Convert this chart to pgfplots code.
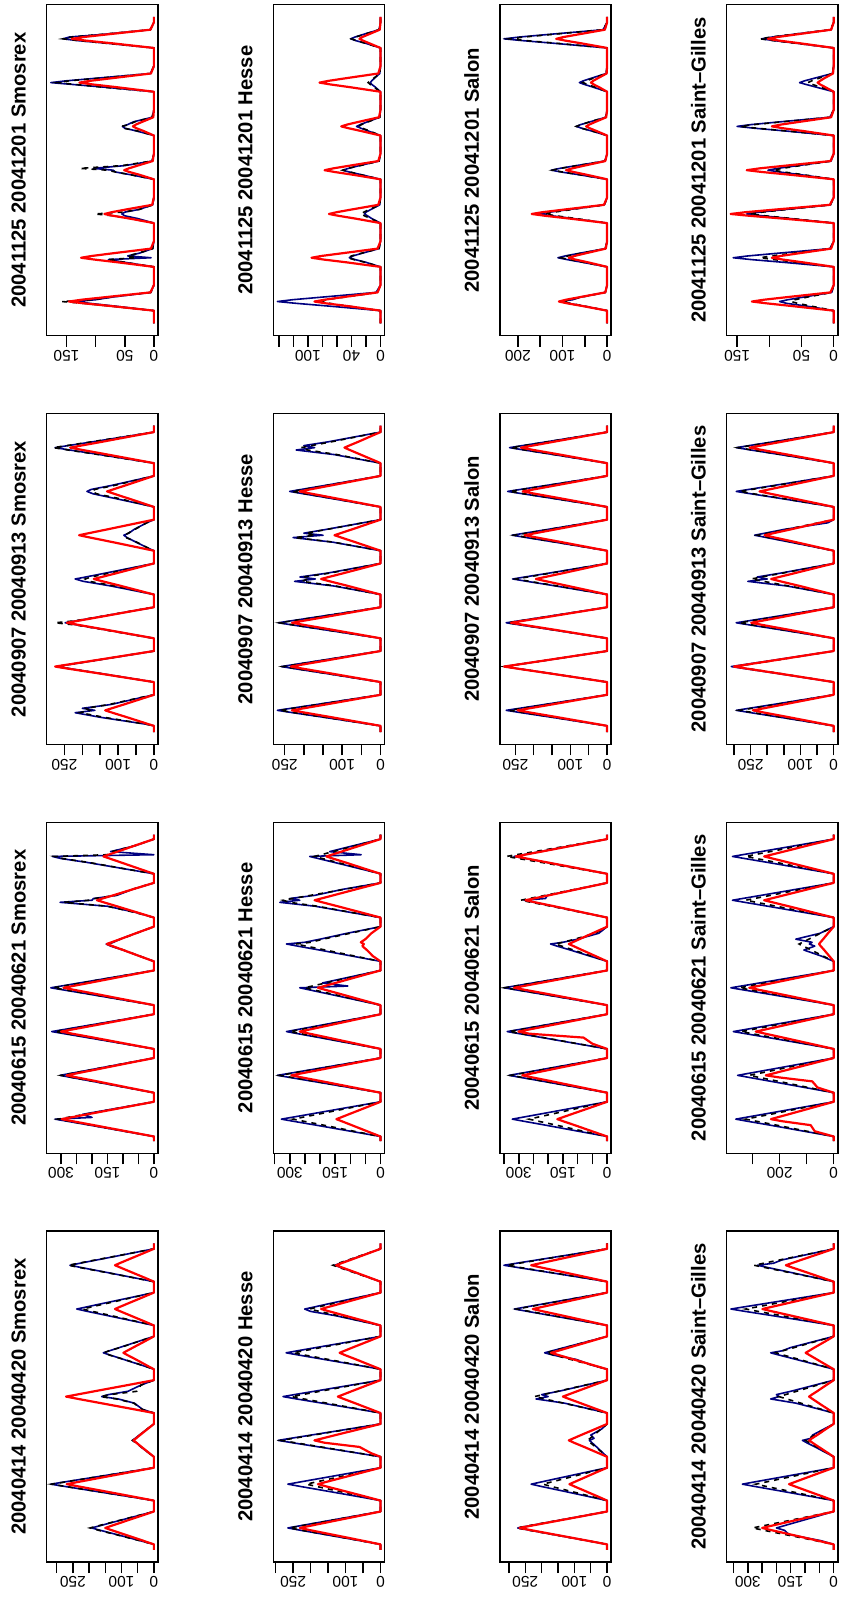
\documentclass[border=0pt]{standalone}
\usepackage{fontspec}
\setmainfont{Liberation Sans}
\usepackage{pgfplots}
\usepackage{pgfplotstable}
\pgfplotsset{compat=1.18}
\definecolor{navyR}{RGB}{0,0,128}

\pgfplotstableread{
t n b r
0 0 0 0
3 0 0 0
7 0 0 0
9.5 67 75 73
11 110 120 120
12 134 158 146
13 100 105 124
14.5 70 72 80
17 5 5 6
21 0 0 0
27 0 0 0
31 0 0 0
33.5 50 50 62
35 78 80 102
36 5 30 125
37 45 45 106
38.5 25 27 69
41 2 2 5
45 0 0 0
51 0 0 0
55 0 0 0
57.5 28 40 42
59 50 70 70
60 55 101 85
61 50 55 72
62.5 25 25 47
65 2 2 3
69 0 0 0
75 0 0 0
79 0 0 0
81.5 40 40 25
83 66 66 42
84 70 80 51
85 104 127 43
86.5 50 55 28
89 3 3 2
93 0 0 0
99 0 0 0
103 0 0 0
105.5 30 28 18
107 50 52 30
108 54 56 36
109 45 42 31
110.5 35 33 20
113 3 3 1
117 0 0 0
123 0 0 0
127 0 0 0
129.5 85 88 64
131 140 135 105
132 177 165 128
133 150 145 109
134.5 95 92 70
137 6 6 5
141 0 0 0
147 0 0 0
151 0 0 0
153.5 78 80 70
155 130 128 116
156 156 156 141
157 145 140 120
158.5 85 88 78
161 6 6 6
165 0 0 0
168 0 0 0
}\tSmoNov

\pgfplotstableread{
t n b r
0 0 0 0
3.5 0 0 0
4.35 20 20 14
8.2 150 140 75
10.7 220 206 116
12 165 180 136
13.1 200 190 118
15.2 120 125 84
18.8 40 42 27
20.5 0 0 0
27.5 0 0 0
28.35 27 27 28
32.2 149 150 152
34.7 230 232 235
36 271 273 276
37.1 236 238 240
39.2 168 170 171
42.8 54 55 55
44.5 0 0 0
51.5 0 0 0
52.35 25 28 24
56.2 136 140 134
58.7 211 215 207
60 248 276 243
61.1 216 220 211
63.2 154 156 151
66.8 50 52 49
68.5 0 0 0
75.5 0 0 0
76.35 22 20 17
80.2 121 110 92
82.7 197 180 143
84 220 192 168
85.1 190 175 146
87.2 136 125 104
90.8 44 40 34
92.5 0 0 0
99.5 0 0 0
100.35 10 10 21
104.2 50 48 115
106.7 75 78 178
108 84 82 209
109.1 70 72 182
111.2 55 53 130
114.8 20 20 42
116.5 0 0 0
123.5 0 0 0
124.35 19 18 13
128.2 110 100 72
130.7 170 160 111
132 187 173 131
133.1 175 165 114
135.2 120 112 81
138.8 38 36 26
140.5 0 0 0
147.5 0 0 0
148.35 28 28 23
152.2 152 155 129
154.7 235 240 199
156 276 281 234
157.1 240 244 204
159.2 171 174 145
162.8 55 56 47
164.5 0 0 0
168 0 0 0
}\tSmoSep

\pgfplotstableread{
t n b r
0 0 0 0
2.5 0 0 0
5.35 96 93 89
8.7 207 202 194
10.85 280 273 262
12 319 310 298
12.95 200 279 268
14.65 230 223 215
17.9 121 118 113
21.5 0 0 0
26.5 0 0 0
29.35 91 90 85
32.7 197 195 183
34.85 267 264 248
36 303 300 282
36.95 273 270 254
38.65 218 216 203
41.9 115 114 107
45.5 0 0 0
50.5 0 0 0
53.35 99 96 90
56.7 215 208 195
58.85 290 282 264
60 330 320 300
60.95 297 288 270
62.65 238 230 216
65.9 125 122 114
69.5 0 0 0
74.5 0 0 0
77.35 100 98 88
80.7 216 211 190
82.85 293 286 257
84 333 325 292
84.95 300 293 263
86.65 240 234 210
89.9 127 124 111
93.5 0 0 0
98.5 0 0 0
101.35 46 45 46
104.7 100 98 99
106.85 140 135 134
108 154 150 152
108.95 130 132 137
110.65 110 108 109
113.9 58 57 58
117.5 0 0 0
122.5 0 0 0
125.35 60 62 55
128.7 150 150 120
130.85 303 290 162
132 200 210 184
132.95 195 190 166
134.65 120 125 132
137.9 70 72 70
141.5 0 0 0
146.5 0 0 0
149.35 100 98 49
152.7 215 210 106
154.85 300 295 143
156 328 320 163
156.95 0 150 147
158.65 140 135 117
161.9 60 62 62
165.5 0 0 0
168 0 0 0
}\tSmoJun

\pgfplotstableread{
t n b r
0 0 0 0
3 0 0 0
5 42 43 33
8.4 115 118 90
10.7 165 170 129
12 192 197 150
13.1 169 173 132
14.9 131 134 102
18.3 58 59 45
21 0 0 0
27 0 0 0
29 70 69 59
32.4 191 189 161
34.7 273 271 231
36 318 315 269
37.1 280 277 237
38.9 216 214 183
42.3 95 95 81
45 0 0 0
51 0 0 0
53 15 15 14
56.4 40 39 38
58.7 53 57 54
60 66 66 63
61.1 58 56 55
62.9 45 44 43
66.3 20 20 19
69 0 0 0
75 0 0 0
77 35 36 60
80.4 60 62 163
82.7 110 115 233
84 161 165 271
85.1 140 135 238
86.9 80 53 184
90.3 40 40 81
93 0 0 0
99 0 0 0
101 34 33 21
104.4 94 92 56
106.7 134 136 81
108 156 154 94
109.1 137 139 83
110.9 106 104 64
114.3 47 46 28
117 0 0 0
123 0 0 0
125 52 48 26
128.4 143 132 72
130.7 205 189 103
132 238 220 120
133.1 209 194 106
134.9 162 150 82
138.3 71 66 36
141 0 0 0
147 0 0 0
149 57 58 26
152.4 155 158 72
154.7 223 227 103
156 259 264 120
157.1 228 232 106
158.9 176 180 82
162.3 78 79 36
165 0 0 0
168 0 0 0
}\tSmoApr

\pgfplotstableread{
t n b r
0 0 0 0
3 0 0 0
7 0 0 0
9.5 71 45 45
11 116 70 75
12 142 80 91
13 121 75 77
14.5 78 48 50
17 6 4 4
21 0 0 0
27 0 0 0
31 0 0 0
33.5 20 21 47
35 35 37 78
36 43 45 95
37 38 40 81
38.5 25 26 52
41 2 2 4
45 0 0 0
51 0 0 0
55 0 0 0
57.5 12 14 35
59 18 22 58
60 22 27 71
61 20 23 60
62.5 13 15 39
65 1 1 3
69 0 0 0
75 0 0 0
79 0 0 0
81.5 26 27 38
83 43 42 63
84 52 52 77
85 44 45 65
86.5 29 28 42
89 2 2 3
93 0 0 0
99 0 0 0
103 0 0 0
105.5 17 15 27
107 27 25 44
108 33 30 54
109 28 26 46
110.5 18 17 30
113 1 1 2
117 0 0 0
123 0 0 0
127 0 0 0
129.5 7 9 42
131 12 14 69
132 14 17 84
133 12 14 71
134.5 8 9 46
137 1 1 3
141 0 0 0
147 0 0 0
151 0 0 0
153.5 20 20 15
155 34 33 24
156 41 40 29
157 35 34 25
158.5 23 22 16
161 2 2 1
165 0 0 0
168 0 0 0
}\tHesNov

\pgfplotstableread{
t n b r
0 0 0 0
3.5 0 0 0
4.35 27 26 23
8.2 148 145 127
10.7 229 224 196
12 269 263 231
13.1 234 229 201
15.2 167 163 143
18.8 54 53 46
20.5 0 0 0
27.5 0 0 0
28.35 26 25 23
32.2 142 140 129
34.7 220 216 199
36 259 254 234
37.1 225 221 204
39.2 161 157 145
42.8 52 51 47
44.5 0 0 0
51.5 0 0 0
52.35 27 26 23
56.2 147 145 127
58.7 227 224 196
60 267 263 231
61.1 232 229 201
63.2 166 163 143
66.8 53 53 46
68.5 0 0 0
75.5 0 0 0
76.35 22 22 16
80.2 123 118 85
82.7 224 205 132
84 170 190 155
85.1 210 200 135
87.2 139 133 96
90.8 45 43 31
92.5 0 0 0
99.5 0 0 0
100.35 23 22 12
104.2 125 123 66
106.7 228 224 102
108 150 170 120
109.1 200 195 104
111.2 141 139 74
114.8 46 45 24
116.5 0 0 0
123.5 0 0 0
124.35 24 23 21
128.2 130 127 116
130.7 201 196 179
132 237 231 211
133.1 206 201 184
135.2 147 143 131
138.8 47 46 42
140.5 0 0 0
147.5 0 0 0
148.35 22 21 9
152.2 121 114 52
154.7 220 190 80
156 172 207 94
157.1 200 180 82
159.2 136 128 58
162.8 44 41 19
164.5 0 0 0
168 0 0 0
}\tHesSep

\pgfplotstableread{
t n b r
0 0 0 0
2.5 0 0 0
5.35 98 87 44
8.7 213 188 95
10.85 289 254 128
12 328 289 146
12.95 295 260 131
14.65 236 208 105
17.9 125 110 55
21.5 0 0 0
26.5 0 0 0
29.35 102 100 89
32.7 222 216 192
34.85 300 293 260
36 341 333 295
36.95 307 300 266
38.65 246 240 212
41.9 130 127 112
45.5 0 0 0
50.5 0 0 0
53.35 93 90 80
56.7 202 195 174
58.85 274 264 235
60 311 300 267
60.95 280 270 240
62.65 224 216 192
65.9 118 114 101
69.5 0 0 0
74.5 0 0 0
77.35 80 75 62
80.7 174 163 135
82.85 235 221 182
84 267 251 207
84.95 108 226 186
86.65 192 181 149
89.9 101 95 79
93.5 0 0 0
98.5 0 0 0
101.35 93 84 25
104.7 202 182 45
106.85 274 246 60
108 311 280 55
108.95 250 230 65
110.65 200 190 50
113.9 110 100 30
117.5 0 0 0
122.5 0 0 0
125.35 100 97 65
128.7 216 209 142
130.85 333 300 192
132 267 322 218
132.95 300 290 196
134.65 218 232 157
137.9 127 122 83
141.5 0 0 0
146.5 0 0 0
149.35 70 65 54
152.7 152 142 116
154.85 206 192 158
156 234 218 179
156.95 64 196 161
158.65 168 157 129
161.9 89 83 68
165.5 0 0 0
168 0 0 0
}\tHesJun

\pgfplotstableread{
t n b r
0 0 0 0
3 0 0 0
5 58 57 51
8.4 159 156 139
10.7 228 224 199
12 265 260 231
13.1 233 229 203
14.9 180 177 157
18.3 80 78 69
21 0 0 0
27 0 0 0
29 58 47 39
32.4 159 127 107
34.7 228 182 154
36 265 212 179
37.1 233 187 158
38.9 180 144 122
42.3 80 64 54
45 0 0 0
51 0 0 0
53 64 62 27
56.4 176 170 60
58.7 252 244 160
60 293 284 189
61.1 258 250 166
62.9 199 193 129
66.3 88 85 57
69 0 0 0
75 0 0 0
77 61 56 27
80.4 167 153 73
82.7 240 219 105
84 279 255 122
85.1 246 224 107
86.9 190 173 83
90.3 84 77 37
93 0 0 0
99 0 0 0
101 59 55 26
104.4 162 150 70
106.7 232 215 101
108 270 250 117
109.1 238 220 103
110.9 184 170 80
114.3 81 75 35
117 0 0 0
123 0 0 0
125 48 45 37
128.4 130 122 102
130.7 200 175 146
132 217 203 170
133.1 190 179 150
134.9 148 138 116
138.3 65 61 51
141 0 0 0
147 0 0 0
149 29 30 28
152.4 79 82 76
154.7 113 117 109
156 131 136 127
157.1 115 120 112
158.9 89 92 86
162.3 39 41 38
165 0 0 0
168 0 0 0
}\tHesApr

\pgfplotstableread{
t n b r
0 0 0 0
3 0 0 0
7 0 0 0
9.5 53 50 54
11 86 82 89
12 105 100 108
13 77 85 92
14.5 58 55 59
17 4 4 4
21 0 0 0
27 0 0 0
31 0 0 0
33.5 55 52 43
35 90 84 71
36 110 103 86
37 94 88 73
38.5 61 57 47
41 4 4 3
45 0 0 0
51 0 0 0
55 0 0 0
57.5 76 70 85
59 124 115 139
60 151 140 169
61 128 119 144
62.5 83 77 93
65 6 6 7
69 0 0 0
75 0 0 0
79 0 0 0
81.5 63 61 46
83 103 100 75
84 125 122 92
85 106 104 78
86.5 69 67 51
89 5 5 4
93 0 0 0
99 0 0 0
103 0 0 0
105.5 35 34 24
107 57 58 39
108 69 69 47
109 59 58 40
110.5 38 39 26
113 3 3 2
117 0 0 0
123 0 0 0
127 0 0 0
129.5 31 27 18
131 51 44 30
132 62 54 36
133 53 46 31
134.5 34 30 20
137 2 2 1
141 0 0 0
147 0 0 0
151 0 0 0
153.5 116 110 57
155 189 180 93
156 231 219 114
157 196 186 97
158.5 127 120 63
161 9 9 5
165 0 0 0
168 0 0 0
}\tSalNov

\pgfplotstableread{
t n b r
0 0 0 0
3.5 0 0 0
4.35 28 27 24
8.2 151 146 134
10.7 234 226 207
12 275 266 244
13.1 239 231 212
15.2 171 165 151
18.8 55 53 49
20.5 0 0 0
27.5 0 0 0
28.35 28 28 28
32.2 154 154 155
34.7 238 238 239
36 280 279 281
37.1 244 243 244
39.2 174 173 174
42.8 56 56 56
44.5 0 0 0
51.5 0 0 0
52.35 28 27 26
56.2 151 149 144
58.7 234 230 223
60 275 271 262
61.1 239 236 228
63.2 171 168 162
66.8 55 54 52
68.5 0 0 0
75.5 0 0 0
76.35 26 25 19
80.2 141 136 107
82.7 218 211 165
84 257 248 194
85.1 224 216 169
87.2 159 154 120
90.8 51 50 39
92.5 0 0 0
99.5 0 0 0
100.35 26 25 23
104.2 142 139 124
106.7 220 215 191
108 259 253 225
109.1 225 220 196
111.2 161 157 140
114.8 52 51 45
116.5 0 0 0
123.5 0 0 0
124.35 27 27 23
128.2 149 146 127
130.7 230 226 196
132 271 266 230
133.1 236 231 200
135.2 168 165 143
138.8 54 53 46
140.5 0 0 0
147.5 0 0 0
148.35 27 26 24
152.2 146 144 129
154.7 226 223 200
156 266 262 235
157.1 231 228 204
159.2 165 162 146
162.8 53 52 47
164.5 0 0 0
168 0 0 0
}\tSalSep

\pgfplotstableread{
t n b r
0 0 0 0
2.5 0 0 0
5.35 97 80 51
8.7 209 172 110
10.85 283 233 149
12 322 265 169
12.95 290 239 152
14.65 232 191 122
17.9 122 101 64
21.5 0 0 0
26.5 0 0 0
29.35 100 98 86
32.7 216 213 187
34.85 293 288 253
36 333 327 288
36.95 300 294 259
38.65 240 235 207
41.9 127 124 109
45.5 0 0 0
50.5 0 0 0
53.35 102 100 50
56.7 220 216 80
58.85 298 293 265
60 339 333 301
60.95 305 300 271
62.65 244 240 217
65.9 129 127 114
69.5 0 0 0
74.5 0 0 0
77.35 105 103 95
80.7 228 225 205
82.85 308 305 278
84 350 348 316
84.95 315 312 284
86.65 252 250 228
89.9 133 131 120
93.5 0 0 0
98.5 0 0 0
101.35 58 53 39
104.7 125 114 85
106.85 170 154 114
108 192 175 130
108.95 150 150 117
110.65 100 110 94
113.9 28 40 49
117.5 0 0 0
122.5 0 0 0
125.35 85 88 83
128.7 183 190 180
130.85 248 258 244
132 282 293 277
132.95 209 264 249
134.65 203 211 199
137.9 107 111 105
141.5 0 0 0
146.5 0 0 0
149.35 95 103 93
152.7 205 222 202
154.85 278 301 273
156 316 342 310
156.95 284 308 279
158.65 228 246 223
161.9 120 130 118
165.5 0 0 0
168 0 0 0
}\tSalJun

\pgfplotstableread{
t n b r
0 0 0 0
3 0 0 0
5 60 61 59
8.4 164 166 161
10.7 235 237 230
12 273 276 268
13.1 240 243 236
14.9 186 188 182
18.3 82 83 80
21 0 0 0
27 0 0 0
29 51 43 25
32.4 139 118 69
34.7 200 169 99
36 232 196 115
37.1 204 172 101
38.9 158 133 78
42.3 70 59 35
45 0 0 0
51 0 0 0
53 12 13 26
56.4 32 35 70
58.7 46 51 101
60 54 59 117
61.1 40 52 103
62.9 50 40 80
66.3 16 18 35
69 0 0 0
75 0 0 0
77 48 49 30
80.4 130 133 81
82.7 217 191 116
84 180 222 135
85.1 200 195 119
86.9 148 151 92
90.3 65 67 41
93 0 0 0
99 0 0 0
101 42 41 38
104.4 95 112 103
106.7 164 160 147
108 191 186 171
109.1 168 164 150
110.9 130 126 116
114.3 57 56 51
117 0 0 0
123 0 0 0
125 62 61 50
128.4 170 166 136
130.7 243 237 195
132 283 276 227
133.1 249 243 200
134.9 192 188 154
138.3 85 83 68
141 0 0 0
147 0 0 0
149 69 67 51
152.4 189 184 139
154.7 271 263 200
156 315 306 232
157.1 277 269 204
158.9 214 208 158
162.3 95 92 70
165 0 0 0
168 0 0 0
}\tSalApr

\pgfplotstableread{
t n b r
0 0 0 0
3 0 0 0
7 0 0 0
9.5 42 35 64
11 73 56 104
12 84 66 127
13 71 60 108
14.5 46 40 70
17 3 3 5
21 0 0 0
27 0 0 0
31 0 0 0
33.5 78 57 48
35 128 93 79
36 156 114 96
37 133 97 82
38.5 86 63 53
41 6 5 4
45 0 0 0
51 0 0 0
55 0 0 0
57.5 68 65 80
59 111 107 131
60 135 130 160
61 115 111 136
62.5 74 72 88
65 5 5 6
69 0 0 0
75 0 0 0
79 0 0 0
81.5 51 47 68
83 84 77 111
84 102 94 135
85 87 80 115
86.5 56 52 74
89 4 4 5
93 0 0 0
99 0 0 0
103 0 0 0
105.5 75 73 48
107 123 119 79
108 150 145 96
109 128 123 82
110.5 83 80 53
113 6 6 4
117 0 0 0
123 0 0 0
127 0 0 0
129.5 27 20 13
131 43 33 21
132 53 40 25
133 45 34 21
134.5 29 22 14
137 2 2 1
141 0 0 0
147 0 0 0
151 0 0 0
153.5 56 57 51
155 92 93 84
156 112 114 102
157 95 97 87
158.5 62 63 56
161 4 5 4
165 0 0 0
168 0 0 0
}\tSGNov

\pgfplotstableread{
t n b r
0 0 0 0
3.5 0 0 0
4.35 29 28 24
8.2 161 156 134
10.7 249 241 207
12 293 283 243
13.1 255 246 211
15.2 182 175 151
18.8 59 57 49
20.5 0 0 0
27.5 0 0 0
28.35 31 30 30
32.2 169 162 165
34.7 262 251 255
36 308 295 300
37.1 268 257 261
39.2 191 183 186
42.8 62 59 60
44.5 0 0 0
51.5 0 0 0
52.35 29 28 25
56.2 161 156 136
58.7 249 241 211
60 293 283 248
61.1 255 246 216
63.2 182 175 154
66.8 59 57 50
68.5 0 0 0
75.5 0 0 0
76.35 26 25 19
80.2 142 136 103
82.7 258 211 160
84 200 248 188
85.1 230 216 164
87.2 160 154 117
90.8 52 50 38
92.5 0 0 0
99.5 0 0 0
100.35 24 23 21
104.2 131 125 114
106.7 202 194 177
108 238 228 208
109.1 207 198 181
111.2 148 141 129
114.8 18 46 42
116.5 0 0 0
123.5 0 0 0
124.35 29 28 22
128.2 161 156 123
130.7 249 241 190
132 293 283 223
133.1 255 246 194
135.2 182 175 138
138.8 59 57 45
140.5 0 0 0
147.5 0 0 0
148.35 29 29 25
152.2 161 158 139
154.7 249 245 215
156 293 288 253
157.1 255 251 220
159.2 182 179 157
162.8 59 58 51
164.5 0 0 0
168 0 0 0
}\tSGSep

\pgfplotstableread{
t n b r
0 0 0 0
2.5 0 0 0
5.35 109 98 70
8.7 235 211 85
10.85 319 286 190
12 362 325 232
12.95 326 293 209
14.65 261 234 167
17.9 138 124 88
21.5 0 0 0
26.5 0 0 0
29.35 107 94 60
32.7 231 203 79
34.85 312 275 200
36 355 312 251
36.95 320 281 226
38.65 256 225 181
41.9 135 119 95
45.5 0 0 0
50.5 0 0 0
53.35 111 103 86
56.7 241 223 187
58.85 326 302 253
60 371 343 288
60.95 334 309 259
62.65 267 247 207
65.9 141 130 109
69.5 0 0 0
74.5 0 0 0
77.35 114 105 94
80.7 247 227 203
82.85 334 307 275
84 380 349 312
84.95 342 314 281
86.65 274 251 225
89.9 144 133 119
93.5 0 0 0
98.5 0 0 0
101.35 45 38 16
104.7 110 83 35
106.85 70 113 48
108 90 128 54
108.95 80 115 49
110.65 140 92 39
113.9 50 49 21
117.5 0 0 0
122.5 0 0 0
125.35 112 98 77
128.7 243 211 167
130.85 329 286 226
132 374 325 257
132.95 337 293 231
134.65 269 234 185
137.9 142 124 98
141.5 0 0 0
146.5 0 0 0
149.35 112 98 77
152.7 243 211 167
154.85 329 286 226
156 374 325 257
156.95 337 293 231
158.65 269 234 185
161.9 142 124 98
165.5 0 0 0
168 0 0 0
}\tSGJun

\pgfplotstableread{
t n b r
0 0 0 0
3 0 0 0
5 44 62 55
8.4 156 170 150
10.7 172 243 215
12 200 283 250
13.1 176 249 220
14.9 136 192 170
18.3 60 85 75
21 0 0 0
27 0 0 0
29 70 60 34
32.4 191 163 94
34.7 274 234 134
36 319 272 156
37.1 281 239 137
38.9 217 185 106
42.3 96 82 47
45 0 0 0
51 0 0 0
53 24 22 19
56.4 65 59 52
58.7 94 84 74
60 109 98 86
61.1 80 86 76
62.9 74 67 58
66.3 33 29 26
69 0 0 0
75 0 0 0
77 48 42 19
80.4 132 115 52
82.7 220 164 74
84 191 191 86
85.1 200 168 76
86.9 150 130 58
90.3 66 57 26
93 0 0 0
99 0 0 0
101 48 44 22
104.4 132 121 59
106.7 189 174 84
108 220 202 98
109.1 180 178 86
110.9 150 137 67
114.3 66 61 29
117 0 0 0
123 0 0 0
125 79 68 55
128.4 215 184 149
130.7 309 264 214
132 359 307 249
133.1 316 270 219
134.9 244 209 169
138.3 108 92 75
141 0 0 0
147 0 0 0
149 59 61 37
152.4 160 167 100
154.7 229 239 144
156 266 278 167
157.1 210 245 147
158.9 181 189 114
162.3 80 83 50
165 0 0 0
168 0 0 0
}\tSGApr

\pgfplotsset{
  panel/.style={
    anchor=south west,
    width=111.3pt, height=331pt, scale only axis,
    x dir=reverse,
    ymin=-6.72, ymax=174.72,
    ytick=\empty,
    xtick pos=left,
    xtick align=outside,
    major tick length=11pt,
    axis line style={line width=1.5pt},
    tick style={line width=1.5pt, black},
    xticklabel style={rotate=180, anchor=south, font=\fontsize{15.5}{18}\selectfont},
  }
}

\newcommand{\panel}[8]{%
\begin{axis}[panel, at={(#1pt,#2pt)}, xmin=#4, xmax=#5, xtick={#6}, xticklabels={#7}]
\addplot[navyR, line width=1.6pt, line join=round] table[x=n, y=t] {#3};
\addplot[black, line width=1.6pt, dash pattern=on 5pt off 5pt] table[x=b, y=t] {#3};
\addplot[red, line width=2.2pt, line join=round] table[x=r, y=t] {#3};
\end{axis}
\node[rotate=90, anchor=base, font=\bfseries\fontsize{20.2}{24}\selectfont] at (#1pt-21pt, #2pt+165.5pt) {#8};
}

\begin{document}
\begin{tikzpicture}
\path[use as bounding box] (0,0) rectangle (843pt,1606pt);
% Smosrex
\panel{46.7}{1270.3}{\tSmoNov}{-7.08}{184.08}{0,50,100,150}{0,50,,150}{20041125 20041201 Smosrex}
\panel{46.7}{861.5}{\tSmoSep}{-11.52}{299.52}{0,50,...,250}{0,,100,,,250}{20040907 20040913 Smosrex}
\panel{46.7}{452.7}{\tSmoJun}{-13.32}{346.32}{0,50,...,300}{0,,,150,,,300}{20040615 20040621 Smosrex}
\panel{46.7}{43.9}{\tSmoApr}{-12.72}{330.72}{0,50,...,300}{0,,100,,,250,}{20040414 20040420 Smosrex}
% Hesse
\panel{273.3}{1270.3}{\tHesNov}{-5.68}{147.68}{0,20,...,140}{0,,40,,,100,,}{20041125 20041201 Hesse}
\panel{273.3}{861.5}{\tHesSep}{-10.76}{279.76}{0,50,...,250}{0,,100,,,250}{20040907 20040913 Hesse}
\panel{273.3}{452.7}{\tHesJun}{-13.64}{354.64}{0,50,...,350}{0,,,150,,,300,}{20040615 20040621 Hesse}
\panel{273.3}{43.9}{\tHesApr}{-11.8}{306.8}{0,50,...,300}{0,,100,,,250,}{20040414 20040420 Hesse}
% Salon
\panel{499.9}{1270.3}{\tSalNov}{-9.24}{240.24}{0,50,...,200}{0,,100,,200}{20041125 20041201 Salon}
\panel{499.9}{861.5}{\tSalSep}{-11.24}{292.24}{0,50,...,250}{0,,100,,,250}{20040907 20040913 Salon}
\panel{499.9}{452.7}{\tSalJun}{-14}{364}{0,50,...,350}{0,,,150,,,300,}{20040615 20040621 Salon}
\panel{499.9}{43.9}{\tSalApr}{-12.6}{327.6}{0,50,...,300}{0,,100,,,250,}{20040414 20040420 Salon}
% Saint-Gilles
\panel{726.5}{1270.3}{\tSGNov}{-6.4}{166.4}{0,50,100,150}{0,50,,150}{20041125 20041201 Saint--Gilles}
\panel{726.5}{861.5}{\tSGSep}{-12.4}{322.4}{0,50,...,300}{0,,100,,,250,}{20040907 20040913 Saint--Gilles}
\panel{726.5}{452.7}{\tSGJun}{-15.24}{396.24}{0,100,200,300}{0,,200,}{20040615 20040621 Saint--Gilles}
\panel{726.5}{43.9}{\tSGApr}{-14.4}{374.4}{0,50,...,350}{0,,,150,,,300,}{20040414 20040420 Saint--Gilles}
\end{tikzpicture}
\end{document}
